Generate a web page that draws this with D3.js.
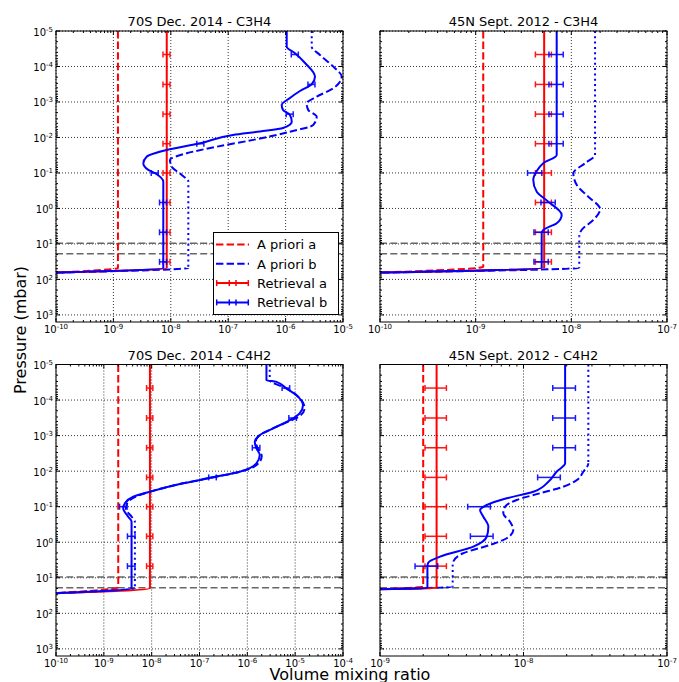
<!DOCTYPE html>
<html><head><meta charset="utf-8">
<script src="https://cdn.jsdelivr.net/npm/d3@7"></script>
<style>
body{margin:0;background:#fff}
svg{display:block;font-family:"DejaVu Sans",sans-serif}
</style>
</head><body>
<svg id="c" width="679" height="682"></svg>
<script>
// ---------------- DATA ----------------
// pairs are [volume mixing ratio, pressure (mbar)]
const yDomain = [1e-5, 1585];
const errPressure = [4.6e-5, 3.2e-4, 2.2e-3, 1.5e-2, 0.1, 0.68, 4.7, 32];
const boundaryPressures = [9.5, 19];
const legendLabels = ["A priori a", "A priori b", "Retrieval a", "Retrieval b"];
const axisLabelX = "Volume mixing ratio";
const axisLabelY = "Pressure (mbar)";

// Panel 1 : 70S Dec. 2014 - C3H4
const p1Title = "70S Dec. 2014 - C3H4";
const p1XDomain = [1e-10, 1e-5];
const p1AprioriA = [[1.2e-9,1e-5],[1.2e-9,47.4],[1e-10,64.3]];
const p1RetrievalA = [[8.5e-9,1e-5],[8.5e-9,47.4],[1e-10,64.3]];
const p1AprioriB = [[2.85e-6,1e-5],[2.85e-6,2.77e-5],[3.97e-6,4.74e-5],[6.78e-6,1.01e-4],[9.48e-6,1.94e-4],[6.78e-6,4.11e-4],[3.48e-6,7.1e-4],[2.33e-6,1.09e-3],[2.48e-6,1.68e-3],[3.48e-6,2.59e-3],[3.04e-6,4.45e-3],[1.19e-6,6.87e-3],[2.74e-7,1.17e-2],[6.31e-8,1.82e-2],[1.89e-8,2.79e-2],[9.68e-9,4.31e-2],[1.04e-8,6.65e-2],[1.55e-8,0.114],[2.02e-8,0.176],[2.02e-8,47.4],[1e-10,64.3]];
const p1RetrievalB = [[1.045e-6,1e-5],[1.045e-6,2.77e-5],[1.46e-6,4.25e-5],[2.18e-6,7.96e-5],[3.25e-6,1.94e-4],[2.85e-6,3.17e-4],[1.78e-6,4.9e-4],[1.19e-6,7.71e-4],[8.55e-7,1.22e-3],[9.02e-7,1.68e-3],[1.19e-6,2.32e-3],[1.28e-6,3.59e-3],[9.02e-7,5.4e-3],[3.58e-7,6.78e-3],[1.21e-7,8.51e-3],[3.23e-8,1.46e-2],[8.49e-9,2.25e-2],[3.8e-9,3.48e-2],[3.32e-9,5.33e-2],[4.06e-9,8.22e-2],[5.31e-9,0.102],[7.4e-9,0.176],[7.4e-9,47.4],[1e-10,64.3]];
const p1ErrA = [8.5e-9,8.5e-9,8.5e-9,8.5e-9,8.5e-9,8.5e-9,8.5e-9,8.5e-9];
const p1ErrAFrac = 0.14;
const p1ErrB = [1.46e-6,2.85e-6,1.19e-6,3.3e-8,5.3e-9,7.4e-9,7.4e-9,7.4e-9];
const p1ErrBFrac = 0.14;

// Panel 2 : 45N Sept. 2012 - C3H4
const p2Title = "45N Sept. 2012 - C3H4";
const p2XDomain = [1e-10, 1e-7];
const p2AprioriA = [[1.2e-9,1e-5],[1.2e-9,44],[1e-10,64.3]];
const p2RetrievalA = [[5.2e-9,1e-5],[5.2e-9,46.6],[1e-10,64.3]];
const p2AprioriB = [[1.77e-8,1e-5],[1.77e-8,3.11e-2],[1.39e-8,5.33e-2],[1.05e-8,0.102],[1.14e-8,0.218],[1.5e-8,0.466],[2.0e-8,1.05],[1.7e-8,2.11],[1.28e-8,4.04],[1.21e-8,6.22],[1.21e-8,46.6],[1e-10,64.3]];
const p2RetrievalB = [[7.03e-9,1e-5],[7.03e-9,3.11e-2],[5.09e-9,5.33e-2],[4.35e-9,8.79e-2],[4.0e-9,0.157],[4.35e-9,0.337],[5.74e-9,0.643],[7.93e-9,1.52],[7.03e-9,2.61],[5.09e-9,4.04],[4.9e-9,5.0],[4.9e-9,46.6],[1e-10,64.3]];
const p2ErrA = [5.2e-9,5.2e-9,5.2e-9,5.2e-9,5.2e-9,5.2e-9,5.2e-9,5.2e-9];
const p2ErrAFrac = 0.19;
const p2ErrB = [7.03e-9,7.03e-9,7.03e-9,7.03e-9,4.2e-9,5.8e-9,4.9e-9,4.9e-9];
const p2ErrBFrac = 0.17;

// Panel 3 : 70S Dec. 2014 - C4H2
const p3Title = "70S Dec. 2014 - C4H2";
const p3XDomain = [1e-10, 1e-4];
const p3AprioriA = [[2.0e-9,1e-5],[2.0e-9,18.4],[1e-10,27.1]];
const p3RetrievalA = [[9.2e-9,1e-5],[9.2e-9,19.6],[1e-10,27.1]];
const p3AprioriB = [[2.94e-6,1e-5],[2.94e-6,2.76e-5],[6.55e-6,4.72e-5],[1.13e-5,7.76e-5],[1.58e-5,1.69e-4],[1.24e-5,2.83e-4],[8.99e-6,3.55e-4],[3.44e-6,6.28e-4],[1.82e-6,9.68e-4],[1.5e-6,1.49e-3],[1.65e-6,2.29e-3],[2.0e-6,3.77e-3],[1.65e-6,6.31e-3],[6.93e-7,1.04e-2],[1.92e-7,1.49e-2],[4.55e-8,2.2e-2],[9.16e-9,3.79e-2],[4.46e-9,5.35e-2],[3.03e-9,8.39e-2],[2.89e-9,0.116],[3.86e-9,0.195],[4.46e-9,0.269],[4.46e-9,19.6],[1e-10,27.1]];
const p3RetrievalB = [[2.51e-6,1e-5],[2.51e-6,2.76e-5],[4.06e-6,3.08e-5],[6.55e-6,4.72e-5],[1.06e-5,7.28e-5],[1.46e-5,1.39e-4],[1.24e-5,2.38e-4],[8.99e-6,3.29e-4],[3.44e-6,6.28e-4],[1.82e-6,9.68e-4],[1.43e-6,1.49e-3],[1.55e-6,2.29e-3],[1.82e-6,3.53e-3],[1.55e-6,6.04e-3],[6.93e-7,1.04e-2],[1.92e-7,1.49e-2],[4.55e-8,2.2e-2],[9.16e-9,3.79e-2],[4.11e-9,5.24e-2],[2.76e-9,8.02e-2],[2.54e-9,0.111],[3.23e-9,0.191],[3.8e-9,0.264],[3.8e-9,19.6],[1e-10,27.1]];
const p3ErrA = [9.2e-9,9.2e-9,9.2e-9,9.2e-9,9.2e-9,9.2e-9,9.2e-9];
const p3ErrAFrac = 0.15;
const p3ErrB = [6.5e-6,9.0e-6,1.55e-6,1.9e-7,2.6e-9,3.8e-9,3.8e-9];
const p3ErrBFrac = 0.18;

// Panel 4 : 45N Sept. 2012 - C4H2
const p4Title = "45N Sept. 2012 - C4H2";
const p4XDomain = [1e-9, 1e-7];
const p4AprioriA = [[2.0e-9,1e-5],[2.0e-9,17.7],[1e-9,20.9]];
const p4RetrievalA = [[2.48e-9,1e-5],[2.48e-9,19.6],[1e-9,20.9]];
const p4AprioriB = [[2.83e-8,1e-5],[2.83e-8,6.04e-3],[2.61e-8,1.04e-2],[2.35e-8,1.78e-2],[1.89e-8,2.74e-2],[1.3e-8,4.21e-2],[8.97e-9,6.49e-2],[7.43e-9,0.1],[7.23e-9,0.153],[8.05e-9,0.264],[8.49e-9,0.451],[7.64e-9,0.773],[5.85e-9,1.19],[3.8e-9,2.04],[3.24e-9,3.51],[3.21e-9,4.63],[3.21e-9,17.7],[1e-9,20.9]];
const p4RetrievalB = [[1.95e-8,1e-5],[1.95e-8,6.04e-3],[1.7e-8,1.04e-2],[1.49e-8,1.99e-2],[1.17e-8,3.79e-2],[7.64e-9,5.81e-2],[5.55e-9,8.95e-2],[4.98e-9,0.124],[5.25e-9,0.191],[5.69e-9,0.365],[5.55e-9,0.697],[4.47e-9,1.33],[2.62e-9,2.54],[2.17e-9,3.74],[2.14e-9,4.84],[2.14e-9,19.6],[1e-9,20.9]];
const p4ErrA = [2.48e-9,2.48e-9,2.48e-9,2.48e-9,2.48e-9,2.48e-9,2.48e-9];
const p4ErrAFrac = 0.17;
const p4ErrB = [1.95e-8,1.95e-8,1.95e-8,1.53e-8,4.98e-9,5.2e-9,2.14e-9];
const p4ErrBFrac = 0.18;

// ---------------- DRAWING ----------------
const RED = "#ff0000", BLUE = "#0000ff";
const DASH = "7.4,3.2", DOT = "2,3.3";
const svg = d3.select("#c");
const defs = svg.append("defs");

const panels = [
  {title:p1Title, box:[56,343,31,322], xDomain:p1XDomain, yLabels:true, legend:true,
   aprA:p1AprioriA, aprB:p1AprioriB, retA:p1RetrievalA, retB:p1RetrievalB,
   errA:p1ErrA, errAFrac:p1ErrAFrac, errB:p1ErrB, errBFrac:p1ErrBFrac},
  {title:p2Title, box:[380,667,31,322], xDomain:p2XDomain, yLabels:false, legend:false,
   aprA:p2AprioriA, aprB:p2AprioriB, retA:p2RetrievalA, retB:p2RetrievalB,
   errA:p2ErrA, errAFrac:p2ErrAFrac, errB:p2ErrB, errBFrac:p2ErrBFrac},
  {title:p3Title, box:[56,343,364.5,656], xDomain:p3XDomain, yLabels:true, legend:false,
   aprA:p3AprioriA, aprB:p3AprioriB, retA:p3RetrievalA, retB:p3RetrievalB,
   errA:p3ErrA, errAFrac:p3ErrAFrac, errB:p3ErrB, errBFrac:p3ErrBFrac},
  {title:p4Title, box:[380,667,364.5,656], xDomain:p4XDomain, yLabels:false, legend:false,
   aprA:p4AprioriA, aprB:p4AprioriB, retA:p4RetrievalA, retB:p4RetrievalB,
   errA:p4ErrA, errAFrac:p4ErrAFrac, errB:p4ErrB, errBFrac:p4ErrBFrac}
];

function majorsOf(dom){
  const a=Math.ceil(Math.log10(dom[0])-1e-9), b=Math.floor(Math.log10(dom[1])+1e-9);
  return d3.range(a,b+1).map(e=>+("1e"+e));
}
function minorsOf(dom){
  const out=[];
  const a=Math.floor(Math.log10(dom[0])+1e-9), b=Math.floor(Math.log10(dom[1])+1e-9);
  for(let e=a;e<=b;e++) for(let k=2;k<=9;k++){const v=+(k+"e"+e); if(v>dom[0]&&v<dom[1]) out.push(v);}
  return out;
}
function powLabel(sel, v){
  const e=Math.round(Math.log10(v));
  sel.append("tspan").text("10");
  sel.append("tspan").attr("dy",-4).attr("font-size",7).text(String(e));
}

panels.forEach((P,pi)=>{
  const [x0,x1,y0,y1]=P.box;
  const xs=d3.scaleLog().domain(P.xDomain).range([x0,x1]);
  const ys=d3.scaleLog().domain(yDomain).range([y0,y1]);
  const g=svg.append("g");
  const clipId="clip"+pi;
  defs.append("clipPath").attr("id",clipId).append("rect")
    .attr("x",x0).attr("y",y0).attr("width",x1-x0).attr("height",y1-y0);

  const xMaj=majorsOf(P.xDomain), yMaj=majorsOf(yDomain);
  const xMin=minorsOf(P.xDomain), yMin=minorsOf(yDomain);

  // grid
  const grid=g.append("g").attr("stroke","#000").attr("stroke-width",0.8).attr("stroke-dasharray","1,2");
  grid.selectAll(null).data(xMaj).enter().append("line")
    .attr("x1",d=>xs(d)).attr("x2",d=>xs(d)).attr("y1",y0).attr("y2",y1);
  grid.selectAll(null).data(yMaj).enter().append("line")
    .attr("y1",d=>ys(d)).attr("y2",d=>ys(d)).attr("x1",x0).attr("x2",x1);

  // boundary lines
  g.append("g").selectAll(null).data(boundaryPressures).enter().append("line")
    .attr("x1",x0).attr("x2",x1).attr("y1",d=>ys(d)).attr("y2",d=>ys(d))
    .attr("stroke","#666").attr("stroke-width",1.5).attr("stroke-dasharray","7,3.3");

  const plot=g.append("g").attr("clip-path",`url(#${clipId})`);
  const line=d3.line().x(d=>xs(d[0])).y(d=>ys(d[1])).curve(d3.curveMonotoneY);

  // a priori a
  plot.append("path").attr("d",line(P.aprA)).attr("fill","none").attr("stroke",RED)
    .attr("stroke-width",2).attr("stroke-dasharray",DASH);

  // a priori b: vertical runs appear dotted, the rest dashed
  const runs=[];
  for(let i=0;i<P.aprB.length-1;i++){
    if(P.aprB[i][0]===P.aprB[i+1][0]){
      const ya=ys(P.aprB[i][1]), yb=ys(P.aprB[i+1][1]);
      if(runs.length && Math.abs(runs[runs.length-1][1]-ya)<1e-6) runs[runs.length-1][1]=yb;
      else runs.push([ya,yb]);
    }
  }
  const dotClip="dot"+pi, dashClip="dash"+pi;
  const dc=defs.append("clipPath").attr("id",dotClip);
  runs.forEach(r=>dc.append("rect").attr("x",x0).attr("width",x1-x0).attr("y",r[0]).attr("height",r[1]-r[0]));
  const dsc=defs.append("clipPath").attr("id",dashClip);
  let prev=y0-5;
  runs.forEach(r=>{ if(r[0]>prev) dsc.append("rect").attr("x",x0).attr("width",x1-x0).attr("y",prev).attr("height",r[0]-prev); prev=r[1]; });
  dsc.append("rect").attr("x",x0).attr("width",x1-x0).attr("y",prev).attr("height",y1+5-prev);
  const bPath=line(P.aprB);
  plot.append("g").attr("clip-path",`url(#${dashClip})`).append("path").attr("d",bPath)
    .attr("fill","none").attr("stroke",BLUE).attr("stroke-width",2).attr("stroke-dasharray",DASH);
  plot.append("g").attr("clip-path",`url(#${dotClip})`).append("path").attr("d",bPath)
    .attr("fill","none").attr("stroke",BLUE).attr("stroke-width",2).attr("stroke-dasharray",DOT);

  // retrievals with error bars
  function drawRet(data, centers, frac, color){
    plot.append("path").attr("d",line(data)).attr("fill","none").attr("stroke",color).attr("stroke-width",2);
    const eb=plot.append("g").attr("stroke",color).attr("stroke-width",1.5).attr("opacity",0.9);
    const items=centers.map((c,i)=>({c,p:errPressure[i]}));
    eb.selectAll(null).data(items).enter().append("line")
      .attr("x1",d=>xs(d.c*(1-frac))).attr("x2",d=>xs(d.c*(1+frac)))
      .attr("y1",d=>ys(d.p)).attr("y2",d=>ys(d.p));
    ["lo","hi"].forEach(side=>{
      eb.selectAll(null).data(items).enter().append("line")
        .attr("x1",d=>xs(d.c*(side==="lo"?1-frac:1+frac)))
        .attr("x2",d=>xs(d.c*(side==="lo"?1-frac:1+frac)))
        .attr("y1",d=>ys(d.p)-3).attr("y2",d=>ys(d.p)+3);
    });
  }
  drawRet(P.retA, P.errA, P.errAFrac, RED);
  drawRet(P.retB, P.errB, P.errBFrac, BLUE);

  // spines
  g.append("rect").attr("x",x0).attr("y",y0).attr("width",x1-x0).attr("height",y1-y0)
    .attr("fill","none").attr("stroke","#000").attr("stroke-width",1);

  // ticks (inward, all sides)
  const tk=g.append("g").attr("stroke","#000").attr("stroke-width",1);
  [[xMaj,4],[xMin,2]].forEach(([arr,len])=>{
    tk.selectAll(null).data(arr).enter().append("line").attr("x1",d=>xs(d)).attr("x2",d=>xs(d)).attr("y1",y1).attr("y2",y1-len);
    tk.selectAll(null).data(arr).enter().append("line").attr("x1",d=>xs(d)).attr("x2",d=>xs(d)).attr("y1",y0).attr("y2",y0+len);
  });
  [[yMaj,4],[yMin,2]].forEach(([arr,len])=>{
    tk.selectAll(null).data(arr).enter().append("line").attr("y1",d=>ys(d)).attr("y2",d=>ys(d)).attr("x1",x0).attr("x2",x0+len);
    tk.selectAll(null).data(arr).enter().append("line").attr("y1",d=>ys(d)).attr("y2",d=>ys(d)).attr("x1",x1).attr("x2",x1-len);
  });

  // tick labels
  g.append("g").selectAll(null).data(xMaj).enter().append("text")
    .attr("x",d=>xs(d)).attr("y",y1+10.5).attr("text-anchor","middle").attr("font-size",10)
    .each(function(d){powLabel(d3.select(this),d);});
  if(P.yLabels){
    g.append("g").selectAll(null).data(yMaj).enter().append("text")
      .attr("x",x0-3).attr("y",d=>ys(d)+4.5).attr("text-anchor","end").attr("font-size",10)
      .each(function(d){powLabel(d3.select(this),d);});
  }

  // title
  g.append("text").attr("x",(x0+x1)/2).attr("y",y0-5).attr("text-anchor","middle")
    .attr("font-size",13).text(P.title);

  // legend
  if(P.legend){
    const lg=svg.append("g");
    lg.append("rect").attr("x",213.5).attr("y",232.5).attr("width",125).attr("height",82)
      .attr("fill","#fff").attr("stroke","#000").attr("stroke-width",1);
    const rows=[
      {label:legendLabels[0],color:RED,dash:DASH,err:false},
      {label:legendLabels[1],color:BLUE,dash:DASH,err:false},
      {label:legendLabels[2],color:RED,dash:null,err:true},
      {label:legendLabels[3],color:BLUE,dash:null,err:true}
    ];
    const rowY=[244.5,263.8,283.1,302.4];
    rows.forEach((r,i)=>{
      const y=rowY[i];
      lg.append("line").attr("x1",216).attr("x2",249).attr("y1",y).attr("y2",y)
        .attr("stroke",r.color).attr("stroke-width",2).attr("stroke-dasharray",r.dash);
      if(r.err){
        [216.7,229.3,236,248.3].forEach(xx=>lg.append("line").attr("x1",xx).attr("x2",xx)
          .attr("y1",y-3).attr("y2",y+3).attr("stroke",r.color).attr("stroke-width",1.5));
      }
      lg.append("text").attr("x",257).attr("y",y+4.7).attr("font-size",13).text(r.label);
    });
  }
});

// axis labels
svg.append("text").attr("transform","translate(25.5,330) rotate(-90)").attr("text-anchor","middle")
  .attr("font-size",16).text(axisLabelY);
svg.append("text").attr("x",350).attr("y",680).attr("text-anchor","middle")
  .attr("font-size",16).text(axisLabelX);
</script>
</body></html>
